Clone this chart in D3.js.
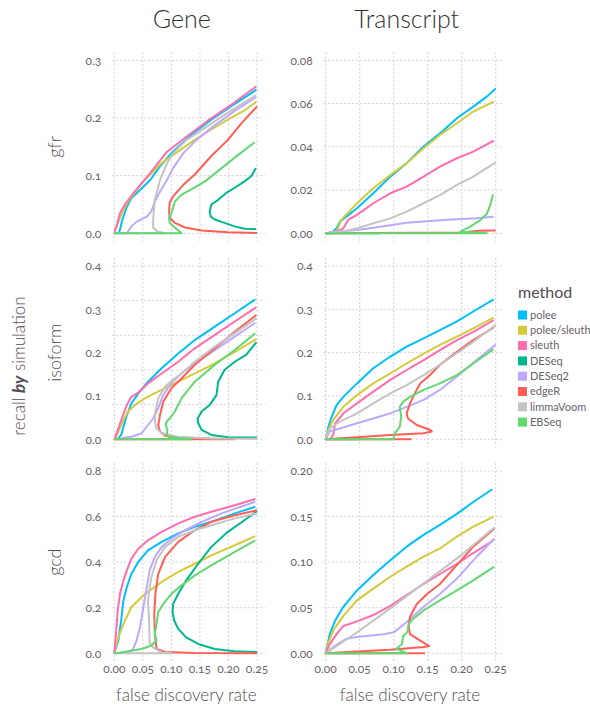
<!DOCTYPE html>
<html>
<head>
<meta charset="utf-8">
<script src="https://d3js.org/d3.v7.min.js"></script>
<style>
  body { margin: 0; padding: 0; background: #fff; }
  text { font-family: Lato, "Open Sans", sans-serif; }
  .tk { font-variant-numeric: oldstyle-nums; font-feature-settings: "onum" 1; }
</style>
</head>
<body>
<div id="container"></div>
<script>
// methods and their colours (legend order = drawing order)
var methods = ["polee", "polee/sleuth", "sleuth", "DESeq", "DESeq2", "edgeR", "limmaVoom", "EBSeq"];
var colors = ["#00bfff", "#d4ca3a", "#ff6dae", "#00b78d", "#bea9ff", "#ff5f55", "#c4c4c4", "#62d870"];

var columns = ["Gene", "Transcript"];
var rows = ["gfr", "isoform", "gcd"];
var xTicks = [0, 0.05, 0.10, 0.15, 0.20, 0.25];

// each panel: one [fdr, recall] path per method, in method order
var geneGfr = [
  [[0,0],[0.008,0.001],[0.011,0.01],[0.013,0.02],[0.022,0.046],[0.030,0.061],[0.045,0.075],[0.0625,0.092],[0.080,0.116],[0.103,0.142],[0.138,0.173],[0.173,0.199],[0.209,0.223],[0.249,0.249]],
  [[0,0.004],[0.007,0.02],[0.015,0.038],[0.024,0.055],[0.048,0.087],[0.083,0.122],[0.112,0.142],[0.141,0.162],[0.17,0.18],[0.199,0.197],[0.228,0.213],[0.249,0.228]],
  [[0,0],[0.004,0.012],[0.010,0.035],[0.02,0.052],[0.033,0.069],[0.0625,0.104],[0.092,0.141],[0.127,0.168],[0.162,0.194],[0.208,0.225],[0.249,0.255]],
  [[0.248,0.0075],[0.228,0.008],[0.211,0.012],[0.193,0.018],[0.176,0.024],[0.169,0.029],[0.167,0.038],[0.170,0.05],[0.182,0.058],[0.196,0.07],[0.211,0.079],[0.228,0.09],[0.24,0.099],[0.248,0.113]],
  [[0,0],[0.022,0],[0.030,0.012],[0.039,0.020],[0.057,0.029],[0.065,0.038],[0.071,0.055],[0.080,0.072],[0.092,0.092],[0.103,0.113],[0.121,0.139],[0.144,0.162],[0.173,0.185],[0.209,0.211],[0.248,0.236]],
  [[0.25,0.0005],[0.199,0.002],[0.153,0.005],[0.124,0.010],[0.106,0.018],[0.097,0.027],[0.096,0.038],[0.097,0.053],[0.103,0.064],[0.121,0.084],[0.141,0.102],[0.170,0.134],[0.199,0.162],[0.223,0.191],[0.25,0.220]],
  [[0,0],[0.09,0.0],[0.075,0.003],[0.068,0.01],[0.068,0.023],[0.071,0.058],[0.080,0.092],[0.092,0.121],[0.103,0.139],[0.127,0.162],[0.162,0.185],[0.197,0.208],[0.248,0.239]],
  [[0,0],[0.118,0],[0.106,0.01],[0.097,0.018],[0.096,0.027],[0.100,0.035],[0.103,0.044],[0.106,0.055],[0.118,0.067],[0.135,0.076],[0.159,0.090],[0.188,0.113],[0.217,0.136],[0.246,0.158]]
];
var txGfr = [
  [[0,0],[0.008,0],[0.016,0.0023],[0.021,0.0054],[0.046,0.0116],[0.070,0.0185],[0.095,0.0262],[0.119,0.0324],[0.144,0.0401],[0.168,0.0462],[0.193,0.0532],[0.217,0.0586],[0.237,0.0632],[0.25,0.067]],
  [[0,0],[0.016,0.0008],[0.023,0.0062],[0.046,0.0139],[0.070,0.0208],[0.095,0.027],[0.119,0.0324],[0.144,0.0393],[0.168,0.0455],[0.193,0.0509],[0.217,0.0563],[0.247,0.0609]],
  [[0,0],[0.016,0.0008],[0.026,0.0023],[0.033,0.0062],[0.046,0.0085],[0.070,0.0139],[0.095,0.0185],[0.119,0.0216],[0.144,0.0262],[0.168,0.0308],[0.193,0.0347],[0.217,0.0378],[0.247,0.0428]],
  [[0,0],[0.08,0]],
  [[0,0],[0.02,0.0008],[0.046,0.0015],[0.070,0.0026],[0.095,0.0037],[0.119,0.0049],[0.144,0.0055],[0.168,0.006],[0.193,0.0065],[0.217,0.0069],[0.247,0.0076]],
  [[0,0],[0.2,0.0004],[0.225,0.0012],[0.25,0.0013]],
  [[0,0],[0.026,0.0008],[0.046,0.0023],[0.070,0.0046],[0.095,0.0069],[0.119,0.010],[0.144,0.0139],[0.168,0.0177],[0.193,0.0224],[0.217,0.0262],[0.25,0.0328]],
  [[0,0],[0.237,0],[0.198,0.0008],[0.212,0.003],[0.227,0.006],[0.237,0.009],[0.242,0.013],[0.246,0.018]]
];
var geneIsoform = [
  [[0,0],[0.007,0.002],[0.012,0.01],[0.016,0.029],[0.022,0.056],[0.030,0.083],[0.042,0.106],[0.059,0.133],[0.083,0.164],[0.112,0.198],[0.141,0.229],[0.176,0.26],[0.211,0.291],[0.247,0.323]],
  [[0,0],[0.002,0.003],[0.007,0.018],[0.016,0.045],[0.024,0.064],[0.036,0.079],[0.054,0.095],[0.083,0.114],[0.112,0.133],[0.141,0.152],[0.176,0.175],[0.211,0.202],[0.249,0.231]],
  [[0,0],[0.001,0.002],[0.007,0.025],[0.013,0.048],[0.022,0.079],[0.030,0.098],[0.042,0.108],[0.059,0.129],[0.083,0.152],[0.112,0.179],[0.141,0.21],[0.176,0.241],[0.211,0.272],[0.249,0.305]],
  [[0.25,0.004],[0.199,0.005],[0.170,0.010],[0.153,0.022],[0.147,0.037],[0.146,0.048],[0.153,0.064],[0.167,0.079],[0.179,0.102],[0.182,0.133],[0.193,0.16],[0.211,0.179],[0.231,0.195],[0.240,0.21],[0.249,0.224]],
  [[0,0],[0.01,0.001],[0.019,0.004],[0.030,0.006],[0.048,0.014],[0.059,0.033],[0.068,0.048],[0.077,0.072],[0.085,0.1],[0.1,0.13],[0.12,0.155],[0.141,0.175],[0.176,0.206],[0.211,0.237],[0.247,0.269]],
  [[0,0],[0.21,0],[0.12,0.003],[0.09,0.008],[0.080,0.018],[0.077,0.033],[0.080,0.056],[0.086,0.087],[0.1,0.118],[0.118,0.141],[0.141,0.172],[0.176,0.21],[0.211,0.248],[0.249,0.287]],
  [[0.25,0.001],[0.170,0.002],[0.112,0.006],[0.083,0.014],[0.074,0.025],[0.071,0.041],[0.072,0.064],[0.077,0.095],[0.089,0.122],[0.106,0.141],[0.118,0.152],[0.141,0.179],[0.176,0.214],[0.211,0.245],[0.249,0.279]],
  [[0,0],[0.135,0],[0.095,0.005],[0.092,0.01],[0.093,0.022],[0.09,0.033],[0.092,0.041],[0.097,0.048],[0.106,0.064],[0.118,0.095],[0.141,0.133],[0.176,0.172],[0.211,0.206],[0.247,0.245]]
];
var txIsoform = [
  [[0,0],[0.004,0.029],[0.0088,0.052],[0.016,0.079],[0.026,0.098],[0.046,0.129],[0.070,0.164],[0.095,0.191],[0.119,0.214],[0.144,0.233],[0.168,0.252],[0.193,0.272],[0.217,0.295],[0.247,0.323]],
  [[0,0],[0.004,0.022],[0.011,0.045],[0.026,0.075],[0.046,0.102],[0.070,0.129],[0.095,0.152],[0.119,0.175],[0.144,0.198],[0.168,0.218],[0.193,0.237],[0.217,0.256],[0.247,0.281]],
  [[0,0],[0.006,0],[0.011,0.01],[0.014,0.037],[0.026,0.06],[0.046,0.083],[0.070,0.11],[0.095,0.137],[0.119,0.16],[0.144,0.183],[0.168,0.206],[0.193,0.229],[0.217,0.248],[0.247,0.275]],
  [[0,0],[0.05,0]],
  [[0,0],[0.006,0.018],[0.021,0.025],[0.046,0.037],[0.070,0.048],[0.095,0.06],[0.119,0.075],[0.144,0.091],[0.168,0.114],[0.193,0.145],[0.222,0.183],[0.25,0.219]],
  [[0.126,0],[0,0],[0.046,0.005],[0.095,0.01],[0.144,0.014],[0.156,0.018],[0.153,0.022],[0.134,0.033],[0.121,0.048],[0.119,0.06],[0.124,0.083],[0.131,0.106],[0.139,0.129],[0.153,0.148],[0.168,0.172],[0.193,0.202],[0.217,0.229],[0.247,0.258]],
  [[0,0],[0.006,0.025],[0.021,0.041],[0.046,0.06],[0.070,0.083],[0.095,0.106],[0.119,0.125],[0.144,0.148],[0.168,0.172],[0.217,0.225],[0.25,0.264]],
  [[0,0],[0.1,0],[0.1,0.01],[0.109,0.029],[0.111,0.052],[0.109,0.075],[0.114,0.087],[0.124,0.098],[0.144,0.114],[0.168,0.129],[0.193,0.148],[0.217,0.175],[0.247,0.208]]
];
var geneGcd = [
  [[0,0],[0.007,0.056],[0.012,0.144],[0.016,0.232],[0.022,0.291],[0.030,0.349],[0.042,0.401],[0.059,0.452],[0.083,0.489],[0.112,0.526],[0.141,0.555],[0.170,0.577],[0.211,0.614],[0.247,0.643]],
  [[0,0],[0.001,0.012],[0.007,0.07],[0.016,0.129],[0.030,0.203],[0.054,0.261],[0.083,0.313],[0.112,0.357],[0.141,0.393],[0.170,0.430],[0.211,0.474],[0.247,0.514]],
  [[0,0],[0.003,0.085],[0.006,0.188],[0.010,0.261],[0.016,0.320],[0.022,0.364],[0.030,0.415],[0.042,0.459],[0.059,0.496],[0.083,0.533],[0.112,0.570],[0.141,0.599],[0.170,0.621],[0.211,0.650],[0.247,0.677]],
  [[0.25,0.006],[0.211,0.009],[0.176,0.019],[0.147,0.041],[0.126,0.07],[0.112,0.107],[0.105,0.144],[0.102,0.181],[0.103,0.217],[0.112,0.261],[0.126,0.32],[0.147,0.393],[0.170,0.467],[0.199,0.533],[0.228,0.584],[0.25,0.624]],
  [[0,0],[0.024,0.004],[0.033,0.019],[0.039,0.056],[0.045,0.114],[0.051,0.203],[0.057,0.291],[0.062,0.364],[0.071,0.423],[0.083,0.467],[0.1,0.503],[0.124,0.540],[0.153,0.577],[0.188,0.614],[0.247,0.665]],
  [[0.25,0],[0.141,0.0015],[0.089,0.006],[0.074,0.019],[0.071,0.085],[0.070,0.173],[0.072,0.261],[0.077,0.349],[0.089,0.423],[0.112,0.489],[0.141,0.540],[0.170,0.577],[0.211,0.606],[0.25,0.628]],
  [[0,0],[0.1,0],[0.083,0.004],[0.068,0.026],[0.062,0.048],[0.061,0.144],[0.059,0.232],[0.065,0.335],[0.074,0.408],[0.089,0.467],[0.112,0.511],[0.141,0.540],[0.170,0.562],[0.211,0.592],[0.25,0.614]],
  [[0,0],[0.007,0.001],[0.024,0.009],[0.048,0.019],[0.065,0.034],[0.074,0.056],[0.071,0.085],[0.074,0.129],[0.077,0.181],[0.086,0.217],[0.1,0.261],[0.118,0.298],[0.141,0.342],[0.170,0.386],[0.211,0.445],[0.247,0.496]]
];
var txGcd = [
  [[0,0],[0.006,0.021],[0.014,0.036],[0.026,0.051],[0.046,0.069],[0.070,0.086],[0.095,0.102],[0.119,0.117],[0.144,0.130],[0.168,0.141],[0.193,0.153],[0.217,0.166],[0.245,0.180]],
  [[0,0],[0.004,0.012],[0.011,0.025],[0.026,0.041],[0.046,0.058],[0.070,0.071],[0.095,0.084],[0.119,0.095],[0.144,0.106],[0.168,0.115],[0.193,0.128],[0.217,0.139],[0.247,0.150]],
  [[0,0],[0.006,0.010],[0.016,0.021],[0.026,0.030],[0.046,0.035],[0.070,0.042],[0.095,0.052],[0.119,0.064],[0.144,0.076],[0.168,0.087],[0.193,0.098],[0.217,0.110],[0.247,0.124]],
  [[0,0],[0.05,0]],
  [[0,0],[0.011,0.007],[0.031,0.016],[0.046,0.018],[0.085,0.021],[0.1,0.023],[0.119,0.034],[0.144,0.051],[0.168,0.065],[0.193,0.082],[0.222,0.106],[0.248,0.126]],
  [[0.146,0],[0,0],[0.046,0.002],[0.095,0.004],[0.144,0.007],[0.152,0.008],[0.139,0.014],[0.124,0.021],[0.122,0.029],[0.124,0.040],[0.134,0.054],[0.149,0.065],[0.168,0.076],[0.193,0.097],[0.217,0.117],[0.248,0.137]],
  [[0,0],[0.05,0.025],[0.1,0.052],[0.15,0.08],[0.2,0.108],[0.248,0.138]],
  [[0,0],[0.12,0],[0.104,0.005],[0.112,0.010],[0.114,0.019],[0.120,0.023],[0.122,0.032],[0.129,0.038],[0.144,0.047],[0.168,0.058],[0.193,0.069],[0.217,0.080],[0.248,0.095]]
];

// y tick labels per panel, and gridline positions (middle-left grid differs from its labels)
var geneGfrTicks = [0, 0.1, 0.2, 0.3];
var txGfrTicks = [0, 0.02, 0.04, 0.06, 0.08];
var isoformTicks = [0, 0.1, 0.2, 0.3, 0.4];
var geneIsoformGrid = [0, 0.08, 0.16, 0.24, 0.32, 0.4];
var geneGcdTicks = [0, 0.2, 0.4, 0.6, 0.8];
var txGcdTicks = [0, 0.05, 0.10, 0.15, 0.20];

var panels = [
  { col: 0, row: 0, series: geneGfr, ticks: geneGfrTicks, grid: geneGfrTicks, fmt: ".1f" },
  { col: 1, row: 0, series: txGfr, ticks: txGfrTicks, grid: txGfrTicks, fmt: ".2f" },
  { col: 0, row: 1, series: geneIsoform, ticks: isoformTicks, grid: geneIsoformGrid, fmt: ".1f" },
  { col: 1, row: 1, series: txIsoform, ticks: isoformTicks, grid: isoformTicks, fmt: ".1f" },
  { col: 0, row: 2, series: geneGcd, ticks: geneGcdTicks, grid: geneGcdTicks, fmt: ".1f" },
  { col: 1, row: 2, series: txGcd, ticks: txGcdTicks, grid: txGcdTicks, fmt: ".2f" }
];

// layout
var W = 590, H = 706;
var colLeft = [114.3, 325.7], colWidth = [142.7, 170];
var rowTop = [60.3, 266, 471], rowHeight = [173, 173.3, 182.3];
var labelColor = "#564a55", tickColor = "#6c606b", gridColor = "#d0d0e0";

var svg = d3.select("#container").append("svg")
  .attr("width", W).attr("height", H);

panels.forEach(function (p) {
  var x = d3.scaleLinear().domain([0, 0.25]).range([colLeft[p.col], colLeft[p.col] + colWidth[p.col]]);
  var yMax = p.ticks[p.ticks.length - 1];
  var y = d3.scaleLinear().domain([0, yMax]).range([rowTop[p.row] + rowHeight[p.row], rowTop[p.row]]);
  var g = svg.append("g");

  // grid
  g.selectAll(".vg").data(xTicks).enter().append("line")
    .attr("x1", d => x(d)).attr("x2", d => x(d))
    .attr("y1", y(yMax) - 8).attr("y2", y(0) + 8)
    .attr("stroke", gridColor).attr("stroke-width", 1).attr("stroke-dasharray", "2,2");
  g.selectAll(".hg").data(p.grid).enter().append("line")
    .attr("x1", x(0) - 2).attr("x2", x(0.25) + 8)
    .attr("y1", d => y(d)).attr("y2", d => y(d))
    .attr("stroke", gridColor).attr("stroke-width", 1).attr("stroke-dasharray", "2,2");

  // y tick labels
  g.selectAll(".yt").data(p.ticks).enter().append("text")
    .attr("class", "tk")
    .attr("x", colLeft[p.col] - 13).attr("y", d => y(d))
    .attr("dy", "0.35em").attr("text-anchor", "end")
    .style("font-size", "12px").style("fill", tickColor)
    .text(d => d3.format(p.fmt)(d));

  // x tick labels on the bottom row
  if (p.row === 2) {
    g.selectAll(".xt").data(xTicks).enter().append("text")
      .attr("class", "tk")
      .attr("x", d => x(d)).attr("y", y(0) + 20)
      .attr("text-anchor", "middle")
      .style("font-size", "12px").style("fill", tickColor)
      .text(d => d3.format(".2f")(d));
  }

  // curves
  var line = d3.line().x(d => x(d[0])).y(d => y(d[1]));
  g.selectAll(".curve").data(p.series).enter().append("path")
    .attr("d", line)
    .attr("fill", "none")
    .attr("stroke", (d, i) => colors[i])
    .attr("stroke-width", 2)
    .attr("stroke-linejoin", "round");
});

// column titles
var titleX = [181.7, 406.7];
svg.selectAll(".ct").data(columns).enter().append("text")
  .attr("x", (d, i) => titleX[i]).attr("y", 28)
  .attr("text-anchor", "middle")
  .style("font-size", "25px").style("font-weight", 300).style("fill", "#333")
  .text(d => d);

// row labels
rows.forEach(function (r, i) {
  var cy = rowTop[i] + rowHeight[i] / 2;
  svg.append("text")
    .attr("transform", "translate(61," + cy + ") rotate(-90)")
    .attr("text-anchor", "middle")
    .style("font-size", "18px").style("font-weight", 300).style("fill", labelColor)
    .text(r);
});

// y axis title
var yt = svg.append("text")
  .attr("transform", "translate(25,366) rotate(-90)")
  .attr("text-anchor", "middle")
  .style("font-size", "17px").style("font-weight", 300).style("fill", labelColor);
yt.append("tspan").text("recall ");
yt.append("tspan").style("font-weight", "bold").style("font-style", "italic").text("by");
yt.append("tspan").text(" simulation");

// x axis titles
var xTitleX = [186.3, 410];
xTitleX.forEach(function (cx) {
  svg.append("text")
    .attr("x", cx).attr("y", 701)
    .attr("text-anchor", "middle")
    .style("font-size", "17px").style("font-weight", 300).style("fill", labelColor)
    .text("false discovery rate");
});

// legend
var legend = svg.append("g");
legend.append("text")
  .attr("x", 518).attr("y", 298)
  .style("font-size", "16px").style("fill", labelColor)
  .text("method");
var item = legend.selectAll(".li").data(methods).enter().append("g")
  .attr("transform", (d, i) => "translate(518," + (315 + i * 15.3) + ")");
item.append("rect")
  .attr("x", 0).attr("y", -4.5).attr("width", 9).attr("height", 9)
  .attr("fill", (d, i) => colors[i]);
item.append("text")
  .attr("x", 12).attr("y", 0).attr("dy", "0.35em")
  .style("font-size", "11px").style("fill", tickColor)
  .text(d => d);
</script>
</body>
</html>
